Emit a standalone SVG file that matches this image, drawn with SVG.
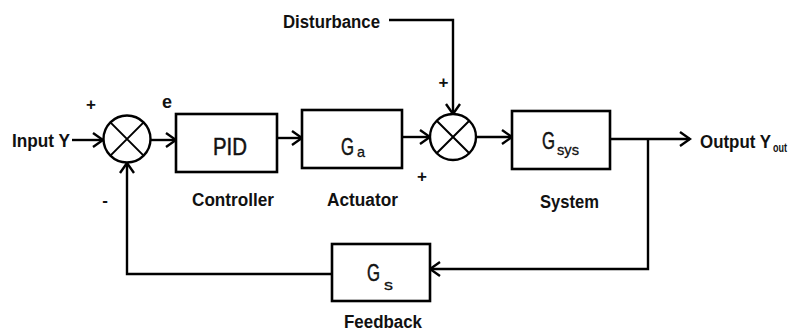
<svg xmlns="http://www.w3.org/2000/svg" width="791" height="333" viewBox="0 0 791 333">
  <style>
    .box { fill: #ffffff; stroke: #000000; stroke-width: 2.6; }
    .sum { fill: #ffffff; stroke: #000000; stroke-width: 2.4; }
    .cross { stroke: #000000; stroke-width: 2; fill: none; }
    .wire { fill: none; stroke: #000000; stroke-width: 2.4; stroke-linejoin: miter; }
    .lbl { font-family: "Liberation Sans", Arial, sans-serif; font-weight: bold; font-size: 18px; fill: #111111; }
    .sign { font-family: "Liberation Sans", Arial, sans-serif; font-weight: bold; font-size: 17px; fill: #111111; text-anchor: middle; }
    .blk { font-family: "Liberation Sans", Arial, sans-serif; font-size: 23px; fill: #111111; stroke: #111111; stroke-width: 0.5; }
    .sub { font-family: "Liberation Sans", Arial, sans-serif; font-size: 15px; fill: #111111; stroke: #111111; stroke-width: 0.3; }
    .osub { font-family: "Liberation Sans", Arial, sans-serif; font-weight: bold; font-size: 13px; fill: #111111; }
  </style>
  <defs>
    <marker id="arrow" viewBox="-12 -9 14 18" refX="0" refY="0" markerWidth="14" markerHeight="18" markerUnits="userSpaceOnUse" orient="auto">
      <path d="M-10,-7 L0,0 L-10,7" fill="none" stroke="#000000" stroke-width="2.4"/>
    </marker>
  </defs>

  <rect width="791" height="333" fill="#ffffff"/>

  <!-- connectors -->
  <g id="connectors" class="wire">
    <path d="M72,140 H103" marker-end="url(#arrow)"/>
    <path d="M151,140 H176" marker-end="url(#arrow)"/>
    <path d="M277,138 H302" marker-end="url(#arrow)"/>
    <path d="M402,137 H430" marker-end="url(#arrow)"/>
    <path d="M389,20 H453 V114" marker-end="url(#arrow)"/>
    <path d="M476,137 H512" marker-end="url(#arrow)"/>
    <path d="M610,139 H690" marker-end="url(#arrow)"/>
    <path d="M648,139 V269 H430" marker-end="url(#arrow)"/>
    <path d="M332,274 H127 V163" marker-end="url(#arrow)"/>
  </g>

  <!-- input -->
  <g id="input">
    <text class="lbl" x="12" y="147" textLength="58" lengthAdjust="spacingAndGlyphs">Input Y</text>
  </g>

  <!-- error summing junction -->
  <g id="sum1">
    <circle class="sum" cx="127" cy="139" r="23.5"/>
    <path class="cross" d="M110.4,122.4 L143.6,155.6 M143.6,122.4 L110.4,155.6"/>
    <text class="sign" x="91" y="110">+</text>
    <text class="sign" x="105" y="206">-</text>
    <text class="lbl" x="167" y="108" text-anchor="middle">e</text>
  </g>

  <!-- controller -->
  <g id="pid">
    <rect class="box" x="176" y="114" width="101" height="58"/>
    <text class="blk" x="213" y="155" font-size="24" textLength="34" lengthAdjust="spacingAndGlyphs">PID</text>
    <text class="lbl" x="192" y="206" textLength="82" lengthAdjust="spacingAndGlyphs">Controller</text>
  </g>

  <!-- actuator -->
  <g id="actuator">
    <rect class="box" x="302" y="110" width="100" height="58"/>
    <text class="blk" x="341" y="155" textLength="13" lengthAdjust="spacingAndGlyphs">G</text>
    <text class="sub" x="357" y="157" textLength="8" lengthAdjust="spacingAndGlyphs">a</text>
    <text class="lbl" x="327" y="206" textLength="71" lengthAdjust="spacingAndGlyphs">Actuator</text>
  </g>

  <!-- disturbance summing junction -->
  <g id="sum2">
    <circle class="sum" cx="453" cy="137" r="23"/>
    <path class="cross" d="M436.7,120.7 L469.3,153.3 M469.3,120.7 L436.7,153.3"/>
    <text class="sign" x="443.5" y="88">+</text>
    <text class="sign" x="422" y="182">+</text>
  </g>

  <g id="disturbance">
    <text class="lbl" x="283" y="28" textLength="97" lengthAdjust="spacingAndGlyphs">Disturbance</text>
  </g>

  <!-- plant -->
  <g id="system">
    <rect class="box" x="512" y="111" width="98" height="58"/>
    <text class="blk" x="542" y="149" textLength="13" lengthAdjust="spacingAndGlyphs">G</text>
    <text class="sub" x="557" y="155" textLength="22" lengthAdjust="spacingAndGlyphs">sys</text>
    <text class="lbl" x="540" y="208" textLength="59" lengthAdjust="spacingAndGlyphs">System</text>
  </g>

  <!-- output -->
  <g id="output">
    <text class="lbl" x="700" y="148" textLength="71" lengthAdjust="spacingAndGlyphs">Output Y</text>
    <text class="osub" x="773" y="152" textLength="14" lengthAdjust="spacingAndGlyphs">out</text>
  </g>

  <!-- feedback sensor -->
  <g id="feedback">
    <rect class="box" x="332" y="244" width="98" height="57"/>
    <text class="blk" x="367" y="281" textLength="13" lengthAdjust="spacingAndGlyphs">G</text>
    <text class="sub" x="384" y="290" textLength="9" lengthAdjust="spacingAndGlyphs">s</text>
    <text class="lbl" x="344" y="328" textLength="78" lengthAdjust="spacingAndGlyphs">Feedback</text>
  </g>
</svg>
